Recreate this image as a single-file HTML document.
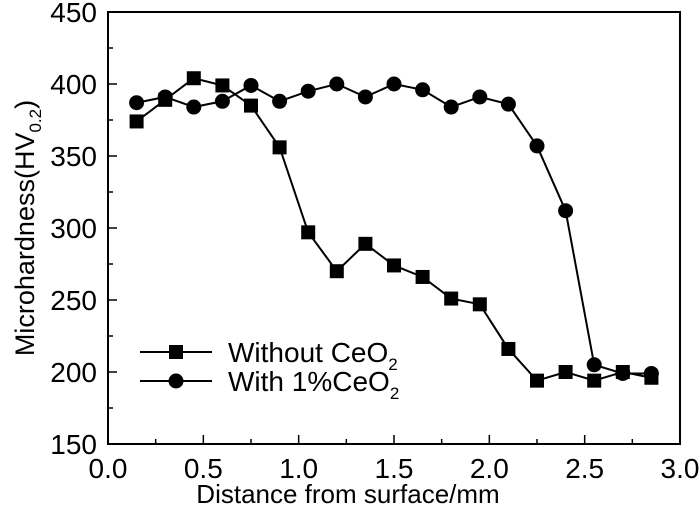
<!DOCTYPE html>
<html><head><meta charset="utf-8"><style>
body{margin:0;background:#fff}
svg{display:block;font-family:"Liberation Sans",Arial,sans-serif}
</style></head><body>
<svg id="c" width="700" height="510"></svg>
<script>
const xs=[0.15,0.3,0.45,0.6,0.75,0.9,1.05,1.2,1.35,1.5,1.65,1.8,1.95,2.1,2.25,2.4,2.55,2.7,2.85];
const without=[374,389,404,399,385,356,297,270,289,274,266,251,247,216,194,200,194,200,196];
const withCe=[387,391,384,388,399,388,395,400,391,400,396,384,391,386,357,312,205,199,199];
const xTicks=["0.0","0.5","1.0","1.5","2.0","2.5","3.0"];
const yTicks=["150","200","250","300","350","400","450"];
const X0=108,X1=680,Y0=444,Y1=12;
const sx=v=>X0+(v/3)*(X1-X0);
const sy=v=>Y0-(v-150)/300*(Y0-Y1);
const svg=document.getElementById('c');
const NS='http://www.w3.org/2000/svg';
function mk(t,a,p){const e=document.createElementNS(NS,t);for(const k in a)e.setAttribute(k,a[k]);(p||svg).appendChild(e);return e;}
const frame=mk('rect',{x:X0,y:Y1,width:X1-X0,height:Y0-Y1,fill:'none',stroke:'#000','stroke-width':2});


for(let i=0;i<=12;i++){const v=i*0.25,x=sx(v),l=i%2?5:9;mk('line',{x1:x,x2:x,y1:Y0,y2:Y0-l,stroke:'#000','stroke-width':1.5});}
xTicks.forEach(t=>{const e=mk('text',{x:sx(+t),y:Y0+34,'font-size':28,'text-anchor':'middle'});e.textContent=t;

});
for(let i=0;i<=12;i++){const v=150+i*25,y=sy(v),l=i%2?5:9;mk('line',{x1:X0,x2:X0+l,y1:y,y2:y,stroke:'#000','stroke-width':1.5});}
yTicks.forEach(t=>{const e=mk('text',{x:X0-11,y:sy(+t)+10,'font-size':28,'text-anchor':'end'});e.textContent=t;

});
const xt=mk('text',{x:348,y:503,'font-size':26,'text-anchor':'middle'});xt.textContent='Distance from surface/mm';


const yt=mk('text',{x:0,y:0,'font-size':27,'text-anchor':'middle',transform:'translate(34,228) rotate(-90)'});
yt.innerHTML='Microhardness(HV<tspan font-size="17" dy="7">0.2</tspan><tspan dy="-7">)</tspan>';


function series(vals,sq,name){
 const g=mk('g',{});
 
 
 mk('polyline',{points:xs.map((x,i)=>sx(x)+','+sy(vals[i])).join(' '),fill:'none',stroke:'#000','stroke-width':2},g);
 xs.forEach((x,i)=>{marker(sx(x),sy(vals[i]),sq,g);});
}
function marker(x,y,sq,g){return sq?mk('rect',{x:x-7,y:y-7,width:14,height:14,fill:'#000'},g):mk('circle',{cx:x,cy:y,r:7.5,fill:'#000'},g);}
series(without,true,'series-without-ceo2');
series(withCe,false,'series-with-1pct-ceo2');
function legend(y,sq,label,name){
 const g=mk('g',{});
 
 
 mk('line',{x1:140,x2:212,y1:y,y2:y,stroke:'#000','stroke-width':2},g);
 marker(176,y,sq,g);
 const t=mk('text',{x:228,y:y+10,'font-size':28},g);t.innerHTML=label+'<tspan font-size="17" dy="8">2</tspan>';
}
legend(352,true,'Without CeO','legend-entry-without');
legend(381,false,'With 1%CeO','legend-entry-with');
</script>
</body></html>
